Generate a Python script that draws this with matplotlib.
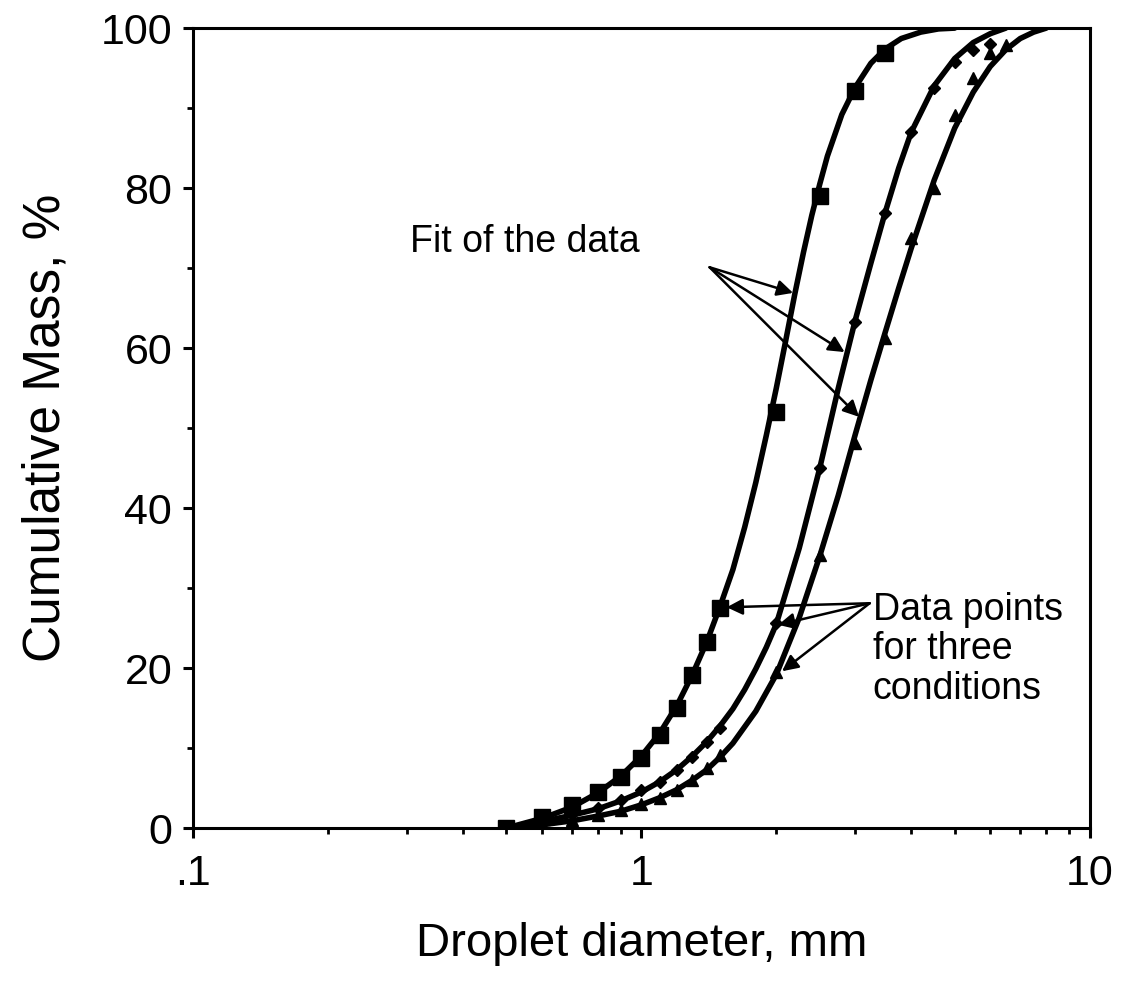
import matplotlib
matplotlib.use("Agg")
import matplotlib.pyplot as plt
from matplotlib.ticker import FixedLocator, FixedFormatter, NullFormatter

plt.rcParams['font.family'] = ['Liberation Sans', 'DejaVu Sans']

# ---- data ----
sq_x = [0.5, 0.6, 0.7, 0.8, 0.9, 1.0, 1.1, 1.2, 1.3, 1.4, 1.5, 2.0, 2.5, 3.0, 3.5]
sq_y = [0.0, 1.4, 2.9, 4.5, 6.4, 8.8, 11.6, 15.0, 19.1, 23.3, 27.5, 52.0, 79.0, 92.2, 96.9]

di_x = [0.5, 0.6, 0.7, 0.8, 0.9, 1.0, 1.1, 1.2, 1.3, 1.4, 1.5, 2.0, 2.5, 3.0, 3.5, 4.0, 4.5, 5.0, 5.5, 6.0]
di_y = [0.0, 1.0, 1.7, 2.5, 3.5, 4.7, 5.8, 7.2, 8.9, 10.7, 12.5, 25.6, 45.0, 63.3, 76.9, 87.0, 92.5, 95.8, 97.3, 98.0]

tr_x = [0.5, 0.6, 0.7, 0.8, 0.9, 1.0, 1.1, 1.2, 1.3, 1.4, 1.5, 2.0, 2.5, 3.0, 3.5, 4.0, 4.5, 5.0, 5.5, 6.0, 6.5]
tr_y = [0.0, 0.5, 1.0, 1.6, 2.3, 3.0, 3.8, 4.8, 6.0, 7.5, 9.1, 19.5, 34.1, 48.1, 61.3, 73.7, 80.0, 89.1, 93.8, 96.9, 97.9]

fit1_x = [0.5, 0.6, 0.7, 0.8, 0.9, 1.0, 1.1, 1.2, 1.3, 1.4, 1.5, 1.6, 1.7, 1.8, 1.9, 2.0, 2.1, 2.2,
          2.3, 2.4, 2.5, 2.6, 2.8, 3.0, 3.25, 3.5, 3.8, 4.2, 4.6, 5.0]
fit1_y = [0.0, 1.2, 2.6, 4.4, 6.5, 9.0, 11.9, 15.3, 19.2, 23.3, 27.8, 32.3, 37.6, 43.2, 49.1, 55.0, 61.0, 66.8,
          72.0, 76.6, 80.5, 84.0, 89.2, 92.6, 95.6, 97.4, 98.7, 99.5, 99.9, 100.0]

fit2_x = [0.5, 0.6, 0.7, 0.8, 0.9, 1.0, 1.1, 1.2, 1.3, 1.4, 1.5, 1.6, 1.7, 1.8, 1.9, 2.0, 2.25, 2.5,
          2.75, 3.0, 3.25, 3.5, 3.75, 4.0, 4.5, 5.0, 5.5, 6.0, 6.5]
fit2_y = [0.0, 0.8, 1.6, 2.4, 3.4, 4.5, 5.8, 7.3, 9.0, 10.8, 12.8, 14.9, 17.3, 19.9, 22.6, 25.5, 35.0, 45.0,
          55.0, 63.5, 70.6, 77.0, 82.5, 87.0, 92.8, 96.2, 98.2, 99.3, 100.0]

fit3_x = [0.5, 0.6, 0.7, 0.8, 0.9, 1.0, 1.1, 1.2, 1.3, 1.4, 1.5, 1.6, 1.8, 2.0, 2.25, 2.5, 2.75, 3.0,
          3.25, 3.5, 3.75, 4.0, 4.5, 5.0, 5.5, 6.0, 6.5, 7.0, 7.5, 8.0]
fit3_y = [0.0, 0.4, 0.9, 1.5, 2.1, 2.9, 3.8, 4.8, 6.0, 7.3, 8.9, 10.6, 14.6, 19.2, 26.3, 34.0, 41.6, 49.2,
          56.0, 62.0, 67.5, 72.5, 81.0, 87.5, 92.0, 95.2, 97.3, 98.7, 99.5, 100.0]

x_ticks = [0.1, 1, 10]
x_ticklabels = ['.1', '1', '10']
y_ticks = [0, 20, 40, 60, 80, 100]

# ---- figure ----
fig = plt.figure(figsize=(11.25, 9.9), dpi=100)
ax = fig.add_axes([0.1716, 0.1636, 0.797, 0.808])

lw = 4.0
ax.plot(fit1_x, fit1_y, color='black', lw=lw, solid_capstyle='round', solid_joinstyle='round')
ax.plot(fit2_x, fit2_y, color='black', lw=lw, solid_capstyle='round', solid_joinstyle='round')
ax.plot(fit3_x, fit3_y, color='black', lw=lw, solid_capstyle='round', solid_joinstyle='round')

ax.plot(sq_x, sq_y, 's', color='black', ms=11, ls='none')
ax.plot(di_x, di_y, 'D', color='black', ms=6.5, ls='none')
ax.plot(tr_x, tr_y, '^', color='black', ms=8, ls='none')

ax.set_xscale('log')
ax.set_xlim(0.1, 10)
ax.set_ylim(0, 100)

ax.xaxis.set_major_locator(FixedLocator(x_ticks))
ax.xaxis.set_major_formatter(FixedFormatter(x_ticklabels))
ax.xaxis.set_minor_formatter(NullFormatter())
ax.set_yticks(y_ticks)
ax.set_yticks([10, 30, 50, 70, 90], minor=True)

for s in ax.spines.values():
    s.set_linewidth(2.2)

ax.tick_params(which='major', direction='out', length=7, width=2.2, labelsize=31, pad=8)
ax.tick_params(which='minor', direction='out', length=4, width=2.0)
ax.tick_params(axis='x', which='major', pad=12)

ax.set_xlabel('Droplet diameter, mm', fontsize=34, labelpad=20)
ax.set_ylabel('Cumulative Mass, %', fontsize=37, labelpad=22)

# ---- annotations ----
ap = dict(arrowstyle='-|>', color='black', lw=1.8, mutation_scale=24, shrinkA=0, shrinkB=0)
ax.text(0.305, 73.2, 'Fit of the data', fontsize=27, ha='left', va='center')
src1 = (1.42, 70.1)
for tip in [(2.18, 66.9), (2.84, 59.5), (3.06, 51.4)]:
    ax.annotate('', xy=tip, xytext=src1, arrowprops=ap)

ax.text(3.28, 29.5, 'Data points\nfor three\nconditions', fontsize=27, ha='left', va='top',
        linespacing=1.12)
src2 = (3.23, 28.1)
for tip in [(1.55, 27.6), (2.02, 25.4), (2.06, 19.6)]:
    ax.annotate('', xy=tip, xytext=src2, arrowprops=ap)

fig.savefig('out.png', dpi=100)
